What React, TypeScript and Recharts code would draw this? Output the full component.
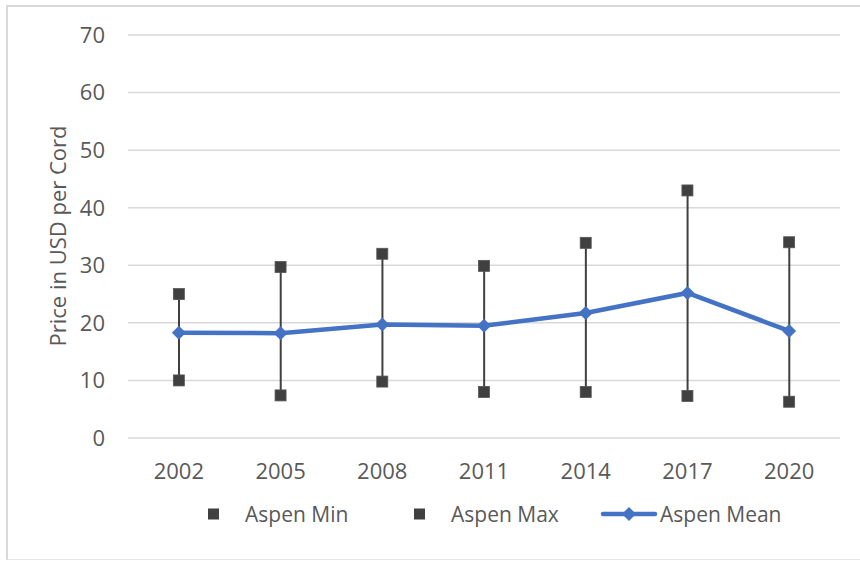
import { ComposedChart, Bar, Line, XAxis, YAxis, CartesianGrid } from "recharts";

const years = ["2002", "2005", "2008", "2011", "2014", "2017", "2020"];
const aspenMin = [10, 7.4, 9.8, 8.0, 8.0, 7.3, 6.3];
const aspenMax = [25, 29.7, 32, 29.9, 33.9, 43, 34];
const aspenMean = [18.3, 18.2, 19.7, 19.5, 21.7, 25.2, 18.6];
const yTicks = [0, 10, 20, 30, 40, 50, 60, 70];

const data = years.map((year, i) => ({
  year,
  min: aspenMin[i],
  max: aspenMax[i],
  mean: aspenMean[i],
  range: [aspenMin[i], aspenMax[i]],
}));

const BLUE = "#4472C4";
const DARK = "#404040";
const TEXT = "#595959";
const FONT = "'Open Sans', sans-serif";

const Square = (props: any) => {
  const { cx, cy, index } = props;
  if (cx == null || cy == null) return <g key={index} />;
  return <rect key={index} x={cx - 5.5} y={cy - 5.5} width={11} height={11} fill={DARK} stroke="#555" strokeWidth={0.8} />;
};

const Diamond = (props: any) => {
  const { cx, cy, index } = props;
  if (cx == null || cy == null) return <g key={index} />;
  const r = 7;
  return (
    <path key={index} d={`M${cx},${cy - r}L${cx + r},${cy}L${cx},${cy + r}L${cx - r},${cy}Z`} fill={BLUE} />
  );
};

export default function App() {
  return (
    <div style={{ position: "absolute", left: 0, top: 0, width: 860, height: 561, background: "#fff", fontFamily: FONT }}>
      <div
        style={{
          position: "absolute",
          left: 6,
          top: 5,
          width: 860,
          height: 552,
          borderTop: "2px solid #d9d9d9",
          borderLeft: "2px solid #d9d9d9",
          borderBottom: "1px solid #e6e6e6",
        }}
      />
      <div style={{ position: "absolute", left: 0, top: 0 }}>
        <ComposedChart width={860} height={561} data={data} margin={{ top: 35, right: 20, left: 0, bottom: 93 }}>
          <CartesianGrid vertical={false} stroke="#d9d9d9" strokeWidth={1.5} />
          <XAxis
            dataKey="year"
            height={30}
            axisLine={false}
            tickLine={false}
            tickSize={0}
            tickMargin={25}
            tick={{ fill: TEXT, fontSize: 22, fontFamily: FONT }}
          />
          <YAxis
            domain={[0, 70]}
            ticks={yTicks}
            width={128}
            axisLine={false}
            tickLine={false}
            tickSize={0}
            tickMargin={23}
            tick={{ fill: TEXT, fontSize: 22, fontFamily: FONT }}
            label={{
              content: () => (
                <text
                  x={66}
                  y={236}
                  transform="rotate(-90 66 236)"
                  textAnchor="middle"
                  fill={TEXT}
                  fontSize={22}
                  fontFamily={FONT}
                >
                  Price in USD per Cord
                </text>
              ),
            }}
          />
          <Bar dataKey="range" barSize={2} fill={DARK} isAnimationActive={false} />
          <Line dataKey="min" stroke="none" dot={Square} activeDot={false} isAnimationActive={false} />
          <Line dataKey="max" stroke="none" dot={Square} activeDot={false} isAnimationActive={false} />
          <Line dataKey="mean" stroke={BLUE} strokeWidth={4.5} dot={Diamond} activeDot={false} isAnimationActive={false} />
        </ComposedChart>
      </div>
      <svg width={860} height={561} style={{ position: "absolute", left: 0, top: 0, pointerEvents: "none" }}>
        <g fontFamily={FONT} fontSize={21} fill={TEXT}>
          <rect x={208} y={508.5} width={11} height={11} fill={DARK} />
          <text x={245} y={522}>Aspen Min</text>
          <rect x={414} y={508.5} width={11} height={11} fill={DARK} />
          <text x={451} y={522}>Aspen Max</text>
          <line x1={603} y1={514} x2={655} y2={514} stroke={BLUE} strokeWidth={4.5} strokeLinecap="round" />
          <path d="M629,507L636,514L629,521L622,514Z" fill={BLUE} />
          <text x={660} y={522}>Aspen Mean</text>
        </g>
      </svg>
    </div>
  );
}
